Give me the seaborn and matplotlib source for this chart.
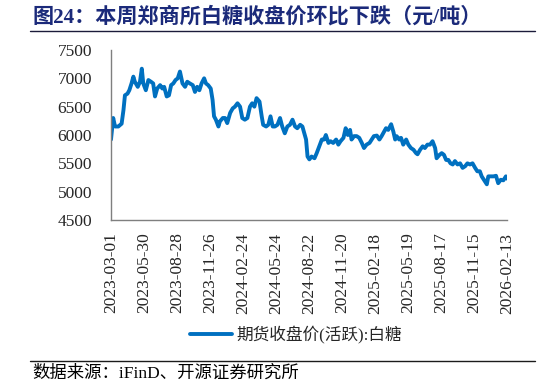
import numpy as np
import pandas as pd
import matplotlib
matplotlib.use("Agg")
import matplotlib.pyplot as plt
import seaborn as sns
from matplotlib.lines import Line2D

# ---------------- data ----------------
start_date = "2023-03-01"
tick_step_days = 90
n_ticks = 13

# days after start_date, and sugar futures close (yuan/ton)
day_offset = [0, 6, 11, 20, 29, 34, 38, 45, 50, 56, 61, 65, 73, 79, 84, 88, 95, 102, 109, 115,
              120, 126, 134, 140, 145, 152, 158, 164, 170, 176, 182, 188, 195, 202, 208, 215, 223, 229, 235, 241,
              247, 254, 259, 265, 272, 277, 281, 286, 293, 297, 305, 311, 317, 325, 332, 338, 345, 352, 358, 365,
              372, 379, 385, 391, 397, 405, 411, 415, 423, 429, 435, 441, 447, 454, 461, 467, 474, 481, 488,
              495, 502, 508, 516, 522, 526, 532, 536, 541, 547, 555, 561, 568, 575, 581, 586, 593, 599, 606, 614,
              620, 626, 634, 640, 646, 652, 656, 663, 670, 677, 684, 690, 697, 705, 711, 717, 725, 732, 738, 745,
              750, 756, 764, 770, 775, 779, 786, 791, 797, 805, 811, 818, 825, 832, 836, 843, 850, 856, 863, 870,
              877, 884, 888, 896, 902, 908, 914, 920, 926, 932, 938, 945, 952, 959, 966, 972, 979, 986, 993, 999,
              1006, 1011, 1017, 1025, 1029, 1035, 1043, 1050, 1056, 1063, 1070, 1077, 1080]
close_price = [5920, 6300, 6150, 6150, 6200, 6440, 6700, 6730, 6790, 6910, 7030, 6940, 6850, 6940, 7170, 6910, 6790, 6970, 6940, 6910,
               6680, 6820, 6880, 6820, 6850, 6680, 6700, 6880, 6910, 6970, 7000, 7120, 6910, 6850, 6940, 6910, 6880, 6760, 6850, 6790,
               6910, 7000, 6910, 6880, 6820, 6620, 6330, 6270, 6150, 6240, 6300, 6300, 6210, 6390, 6470, 6500, 6560, 6500, 6300, 6270,
               6300, 6500, 6560, 6500, 6650, 6590, 6330, 6180, 6150, 6180, 6330, 6150, 6150, 6180, 6300, 6150, 6030, 6150, 6180,
               6270, 6150, 6120, 6180, 6150, 6060, 5920, 5620, 5570, 5620, 5590, 5680, 5800, 5920, 5920, 6000, 5860, 5890, 5860, 5920,
               5830, 5890, 5950, 6120, 6000, 6090, 5920, 5980, 5980, 5950, 5860, 5770, 5830, 5860, 5920, 5980, 5990, 5920, 5980, 6060,
               6120, 6090, 6190, 6060, 5920, 5980, 5920, 5950, 5830, 5920, 5830, 5770, 5740, 5680, 5660, 5740, 5800, 5770, 5830, 5830,
               5890, 5770, 5590, 5650, 5680, 5650, 5560, 5560, 5500, 5480, 5540, 5480, 5500, 5420, 5450, 5500, 5480, 5500, 5420, 5360,
               5360, 5270, 5210, 5130, 5270, 5270, 5270, 5280, 5150, 5210, 5200, 5270, 5230]

y_ticks = [4500, 5000, 5500, 6000, 6500, 7000, 7500]
title_text = "图24：本周郑商所白糖收盘价环比下跌（元/吨）"
legend_text = "期货收盘价(活跃):白糖"
source_text = "数据来源：iFinD、开源证券研究所"

# ---------------- style ----------------
sns.set_style("white")
plt.rcParams["font.family"] = ["Liberation Serif", "Noto Sans CJK SC"]
plt.rcParams["axes.unicode_minus"] = False

line_color = "#0070C0"
spine_color = "#7F7F7F"

df = pd.DataFrame({
    "date": pd.Timestamp(start_date) + pd.to_timedelta(day_offset, unit="D"),
    "close": close_price,
})

fig = plt.figure(figsize=(5.46, 3.87), dpi=100)
ax = fig.add_axes([111 / 546, 1 - 220 / 387, 396 / 546, 170 / 387])

sns.lineplot(data=df, x="date", y="close", ax=ax, color=line_color, linewidth=2.8)

# axes
tick_dates = [pd.Timestamp(start_date) + pd.Timedelta(days=tick_step_days * k) for k in range(n_ticks)]
ax.set_xlim(tick_dates[0], tick_dates[-1])
ax.set_xticks(tick_dates)
ax.set_xticklabels([d.strftime("%Y-%m-%d") for d in tick_dates], rotation=90, fontsize=12.5)
ax.set_ylim(y_ticks[0], y_ticks[-1])
ax.set_yticks(y_ticks)
ax.set_yticklabels([str(v) for v in y_ticks], fontsize=12.5)
ax.set_xlabel("")
ax.set_ylabel("")

for side in ["top", "right"]:
    ax.spines[side].set_visible(False)
for side in ["left", "bottom"]:
    ax.spines[side].set_color(spine_color)
    ax.spines[side].set_linewidth(1.0)
ax.tick_params(axis="both", direction="in", length=4, width=1, color=spine_color)
ax.tick_params(axis="x", pad=9)
ax.tick_params(axis="y", pad=13.5)

# legend
handle = Line2D([0], [0], color=line_color, linewidth=2.8)
fig.legend([handle], [legend_text], loc="center", bbox_to_anchor=(296 / 546, 1 - 335 / 387),
           frameon=False, fontsize=12, handlelength=2.5, handletextpad=0.25)

# title, rules, source
fig.text(33 / 546, 1 - 17 / 387, title_text, fontsize=15.2, fontweight="bold", color="#1B2A7A",
         ha="left", va="center")
fig.add_artist(Line2D([30 / 546, 535 / 546], [1 - 30.5 / 387, 1 - 30.5 / 387], color="#1B1B3A", linewidth=1.0))
fig.add_artist(Line2D([30 / 546, 535 / 546], [1 - 361 / 387, 1 - 361 / 387], color="#1B1B1B", linewidth=1.0))
fig.text(32 / 546, 1 - 374 / 387, source_text, fontsize=12.5, color="black", ha="left", va="center")

fig.savefig("out.png", dpi=100)
